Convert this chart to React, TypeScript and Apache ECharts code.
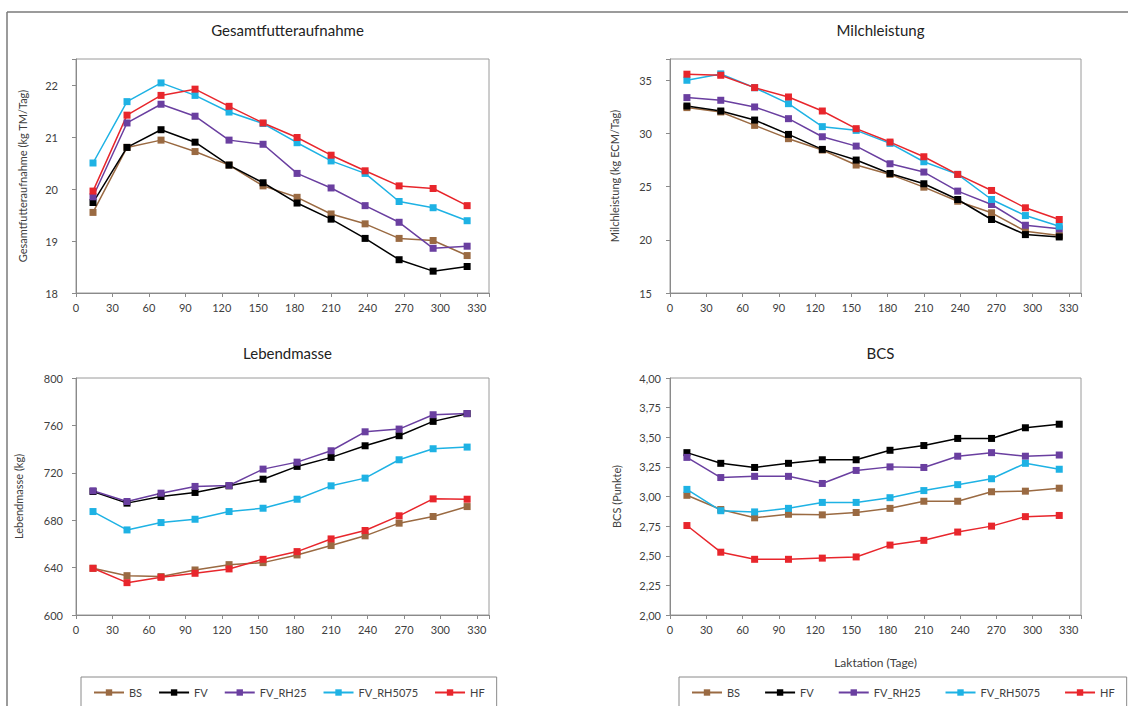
import React, { useEffect, useRef } from "react";
import * as echarts from "echarts";

const DAYS = [14, 42, 70, 98, 126, 154, 182, 210, 238, 266, 294, 322];
const NAMES = ["BS", "FV", "FV_RH25", "FV_RH5075", "HF"];
const COLORS = ["#9a6a42", "#000000", "#6a3fa0", "#1eb2e4", "#e8262c"];

const INTAKE_BS = [19.55, 20.8, 20.94, 20.72, 20.46, 20.06, 19.84, 19.52, 19.33, 19.05, 19.01, 18.72];
const INTAKE_FV = [19.74, 20.8, 21.14, 20.9, 20.46, 20.12, 19.73, 19.42, 19.05, 18.64, 18.42, 18.51];
const INTAKE_RH25 = [19.85, 21.27, 21.63, 21.4, 20.94, 20.86, 20.3, 20.02, 19.68, 19.36, 18.86, 18.9];
const INTAKE_RH5075 = [20.5, 21.68, 22.04, 21.8, 21.48, 21.26, 20.89, 20.54, 20.3, 19.76, 19.64, 19.39];
const INTAKE_HF = [19.96, 21.42, 21.8, 21.92, 21.59, 21.27, 20.99, 20.65, 20.35, 20.06, 20.01, 19.68];

const MILK_BS = [32.43, 32.02, 30.76, 29.51, 28.44, 27.03, 26.15, 24.95, 23.63, 22.54, 20.81, 20.4];
const MILK_FV = [32.58, 32.11, 31.26, 29.91, 28.5, 27.5, 26.24, 25.27, 23.79, 21.91, 20.49, 20.27];
const MILK_RH25 = [33.37, 33.12, 32.49, 31.39, 29.69, 28.81, 27.15, 26.37, 24.58, 23.32, 21.37, 21.03];
const MILK_RH5075 = [35.0, 35.6, 34.3, 32.8, 30.64, 30.29, 29.07, 27.34, 26.15, 23.79, 22.28, 21.28];
const MILK_HF = [35.57, 35.47, 34.31, 33.43, 32.11, 30.45, 29.19, 27.81, 26.15, 24.64, 23.01, 21.91];

const BW_BS = [639.4, 633.2, 632.4, 638.0, 642.5, 644.2, 650.7, 658.6, 666.8, 677.5, 683.1, 691.5];
const BW_FV = [704.2, 694.4, 700.0, 703.4, 709.0, 714.6, 725.4, 733.0, 742.8, 751.3, 763.4, 769.9];
const BW_RH25 = [704.8, 695.8, 702.8, 708.5, 709.3, 723.1, 729.0, 738.6, 754.6, 756.9, 769.0, 770.0];
const BW_RH5075 = [687.3, 671.8, 678.0, 680.8, 687.3, 690.1, 697.7, 709.0, 715.5, 731.0, 740.3, 741.7];
const BW_HF = [639.4, 627.3, 631.8, 635.2, 638.9, 647.0, 653.5, 664.2, 671.3, 683.7, 698.0, 697.7];

const BCS_BS = [3.01, 2.89, 2.82, 2.85, 2.845, 2.865, 2.9, 2.96, 2.96, 3.04, 3.045, 3.07];
const BCS_FV = [3.37, 3.28, 3.245, 3.28, 3.31, 3.31, 3.39, 3.43, 3.49, 3.49, 3.58, 3.61];
const BCS_RH25 = [3.33, 3.16, 3.17, 3.17, 3.11, 3.22, 3.25, 3.245, 3.34, 3.37, 3.34, 3.35];
const BCS_RH5075 = [3.06, 2.88, 2.87, 2.9, 2.95, 2.95, 2.99, 3.05, 3.1, 3.15, 3.28, 3.23];
const BCS_HF = [2.755, 2.53, 2.47, 2.47, 2.48, 2.49, 2.59, 2.63, 2.7, 2.75, 2.83, 2.84];

const PANELS = [
  { title: "Gesamtfutteraufnahme", yName: "Gesamtfutteraufnahme (kg TM/Tag)", data: [INTAKE_BS, INTAKE_FV, INTAKE_RH25, INTAKE_RH5075, INTAKE_HF] },
  { title: "Milchleistung", yName: "Milchleistung (kg ECM/Tag)", data: [MILK_BS, MILK_FV, MILK_RH25, MILK_RH5075, MILK_HF] },
  { title: "Lebendmasse", yName: "Lebendmasse (kg)", data: [BW_BS, BW_FV, BW_RH25, BW_RH5075, BW_HF] },
  { title: "BCS", yName: "BCS (Punkte)", data: [BCS_BS, BCS_FV, BCS_RH25, BCS_RH5075, BCS_HF] },
];

const FONT = "Lato, 'Open Sans', sans-serif";
const TXT = "#404040";

export default function App() {
  const ref = useRef<HTMLDivElement>(null);
  useEffect(() => {
    document.body.style.margin = "0";
    const chart = echarts.init(ref.current!, null, { renderer: "svg" });

    const grids = [
      { left: 76, top: 59, width: 413, height: 234 },
      { left: 670, top: 59, width: 411, height: 234 },
      { left: 76, top: 378, width: 413, height: 237 },
      { left: 670, top: 378, width: 411, height: 237 },
    ];
    const yCfg = [
      { min: 18, max: 22.5, interval: 1, margin: 18, gap: 48, fmt: (v: number) => (v > 22 ? "" : String(v)) },
      { min: 15, max: 37, interval: 5, margin: 18, gap: 50, fmt: (v: number) => (v > 35 ? "" : String(v)) },
      { min: 600, max: 800, interval: 40, margin: 13, gap: 52, fmt: (v: number) => String(v) },
      { min: 2, max: 4, interval: 0.25, margin: 9, gap: 48, fmt: (v: number) => v.toFixed(2).replace(".", ",") },
    ];

    const axisLine = { show: true, lineStyle: { color: "#8a8a8a", width: 1 } };
    const axisTick = { show: true, inside: false, length: 4, lineStyle: { color: "#8a8a8a" } };
    const legendBase = {
      top: 677,
      data: NAMES,
      itemWidth: 30,
      itemHeight: 8,
      padding: [10, 12, 10, 12],
      borderColor: "#8a8a8a",
      borderWidth: 1,
      textStyle: { fontSize: 11, color: TXT, fontFamily: FONT },
    };

    const option: any = {
      animation: false,
      backgroundColor: "#ffffff",
      textStyle: { fontFamily: FONT },
      title: PANELS.map((p, i) => ({
        text: p.title,
        left: grids[i].left + grids[i].width / 2,
        top: i < 2 ? 17 : 340,
        textAlign: "center",
        textStyle: { fontFamily: FONT, fontSize: 15, fontWeight: "normal", color: "#222" },
      })),
      grid: grids.map((g) => ({ ...g, show: true, borderColor: "#9a9a9a", borderWidth: 1, backgroundColor: "transparent" })),
      xAxis: grids.map((_, i) => ({
        type: "value",
        gridIndex: i,
        min: 0,
        max: 340,
        interval: 30,
        axisLine,
        axisTick,
        splitLine: { show: false },
        axisLabel: {
          margin: 9,
          fontSize: 11,
          color: TXT,
          fontFamily: FONT,
          formatter: (v: number) => (v > 330 ? "" : String(v)),
        },
        name: i === 3 ? "Laktation (Tage)" : "",
        nameLocation: "middle",
        nameGap: 41,
        nameTextStyle: { fontSize: 12, color: TXT, fontFamily: FONT },
      })),
      yAxis: yCfg.map((c, i) => ({
        type: "value",
        gridIndex: i,
        min: c.min,
        max: c.max,
        interval: c.interval,
        axisLine,
        axisTick,
        splitLine: { show: false },
        axisLabel: { margin: c.margin, fontSize: 11, color: TXT, fontFamily: FONT, formatter: c.fmt },
        name: PANELS[i].yName,
        nameLocation: "middle",
        nameGap: c.gap,
        nameTextStyle: { fontSize: 11, color: TXT, fontFamily: FONT },
      })),
      legend: [
        { ...legendBase, left: 81, itemGap: 16, width: 440 },
        { ...legendBase, left: 679, itemGap: 24, width: 440 },
      ],
      graphic: [
        { type: "line", shape: { x1: 7, y1: 12, x2: 1128, y2: 12 }, style: { stroke: "#7a7a7a", lineWidth: 1.5 } },
        { type: "line", shape: { x1: 7, y1: 12, x2: 7, y2: 706 }, style: { stroke: "#7a7a7a", lineWidth: 1.5 } },
      ],
      series: [] as any[],
    };

    PANELS.forEach((p, pi) => {
      p.data.forEach((vals, si) => {
        option.series.push({
          type: "line",
          name: NAMES[si],
          xAxisIndex: pi,
          yAxisIndex: pi,
          data: DAYS.map((d, k) => [d, vals[k]]),
          symbol: "rect",
          symbolSize: 7,
          showSymbol: true,
          lineStyle: { color: COLORS[si], width: 1.5 },
          itemStyle: { color: COLORS[si], borderWidth: 0 },
          emphasis: { disabled: true },
        });
      });
    });

    chart.setOption(option);
    return () => chart.dispose();
  }, []);

  return <div ref={ref} style={{ width: 1128, height: 706 }} />;
}
